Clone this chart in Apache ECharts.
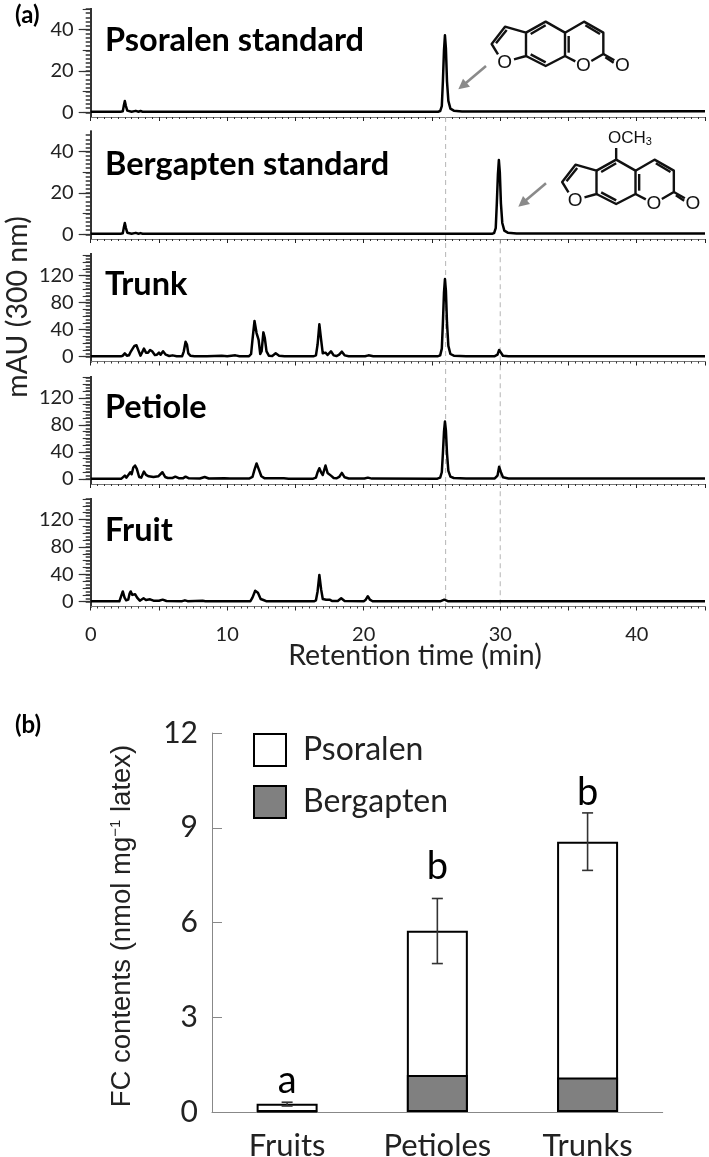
<!DOCTYPE html>
<html><head><meta charset="utf-8">
<style>html,body{margin:0;padding:0;background:#fff}#c{width:709px;height:1157px}</style>
<script src="https://cdn.jsdelivr.net/npm/echarts@6/dist/echarts.min.js"></script>
</head><body><div id="c"></div>
<script>
// ---------- panel (a) data: retention time (min) / signal (mAU)
const psoralenTime   = [0,2.2,2.35,2.42,2.5,2.58,2.68,2.8,3.0,3.3,3.5,3.65,3.8,25.45,25.6,25.72,25.8,25.88,25.95,26.02,26.1,26.2,26.35,26.6,27.2,45];
const psoralenSignal = [0.3,0.3,0.5,3,5.5,3,0.8,0.4,0.3,0.7,0.3,0.6,0.3,0.3,0.6,3,15,30,37.3,31,15,5.5,1.8,0.8,0.4,0.5];
const bergaptenTime   = [0,2.2,2.35,2.42,2.5,2.58,2.68,2.8,3.0,3.3,3.5,3.65,3.8,29.4,29.55,29.67,29.75,29.83,29.9,29.97,30.05,30.15,30.3,30.55,31.2,45];
const bergaptenSignal = [0.3,0.3,0.5,3,5.5,3,0.8,0.4,0.3,0.7,0.3,0.6,0.3,0.3,0.6,3,15,29,36,30,15,5.5,1.8,0.8,0.4,0.4];
const trunkTime   = [0,2.2,2.35,2.5,2.65,2.8,2.95,3.05,3.2,3.35,3.5,3.65,3.75,3.9,4.05,4.2,4.35,4.5,4.7,4.85,5.0,5.12,5.3,5.5,5.75,6.0,6.3,6.7,6.82,6.95,7.05,7.15,7.3,7.6,8.5,9.6,10,10.6,10.9,11.6,11.75,11.85,12.0,12.15,12.3,12.42,12.52,12.65,12.75,12.88,13.05,13.3,13.55,13.8,14.2,16.3,16.5,16.62,16.75,16.88,17.0,17.2,17.35,17.6,17.8,18.0,18.2,18.4,18.6,18.9,20.1,20.35,20.7,25.4,25.6,25.72,25.8,25.88,25.95,26.02,26.1,26.2,26.35,26.6,27.5,29.6,29.8,29.92,30.05,30.2,30.6,45];
const trunkSignal = [0.5,0.5,1.5,5,1.5,2,8,7,16,17,9,1.5,3,12,6,6,10,8,2.5,3,6,3,8,3,1,2,0.8,0.8,8,22,18,5,1.5,0.6,0.8,1.5,0.6,2,0.6,0.8,4,25,53,35,25,4,8,36,28,8,1.5,1.2,5,1.5,0.5,0.5,2,18,48,25,5,6,2.5,8,2,1,3,7.5,2,0.7,0.7,2,0.7,0.5,2,12,50,95,115,98,50,16,4,1.5,0.8,0.8,3,10,6,1.5,0.6,0.6];
const petioleTime   = [0,2.25,2.38,2.5,2.62,2.72,2.9,3.0,3.12,3.25,3.38,3.55,3.7,3.9,4.05,4.25,4.6,4.95,5.25,5.45,5.65,6.0,6.2,6.45,6.75,6.95,7.2,8.0,8.35,8.65,9.8,10.2,11.6,11.85,12.0,12.15,12.3,12.5,12.75,14.15,14.5,16.3,16.5,16.62,16.75,16.9,17.0,17.2,17.35,17.6,17.8,18.0,18.2,18.4,18.6,18.9,20.05,20.3,20.6,25.4,25.6,25.72,25.8,25.88,25.95,26.02,26.1,26.2,26.35,26.6,27.5,29.6,29.8,29.92,30.05,30.2,30.6,45];
const petioleSignal = [0.5,0.5,1.5,5,2,3,10,7,17,20,15,3,2,11,6,4,3,4,10,3,1.5,1.5,3.5,1.2,1,3.5,1,0.8,3,0.8,1,0.6,0.6,3,14,23,15,4,1,1,0.5,0.5,2,10,16,9,6,20,9,5,1.5,1,3,9,2.5,0.7,0.7,2,0.6,0.5,2,10,38,70,85,72,38,12,3.5,1.5,0.8,0.8,5,18,10,2.5,0.8,0.6];
const fruitTime   = [0,2.1,2.22,2.35,2.48,2.6,2.75,2.85,2.93,3.05,3.25,3.4,3.6,3.72,3.87,4.05,4.35,4.6,5.0,5.27,5.55,6.7,6.9,7.1,8.2,8.4,11.7,11.85,12.05,12.25,12.45,12.65,12.85,16.35,16.5,16.62,16.75,16.88,17.0,17.1,17.25,17.5,17.7,18.1,18.35,18.6,20.0,20.15,20.3,20.45,20.65,25.6,25.9,26.2,45];
const fruitSignal = [0.5,0.5,3,15,6,2,3,12,15,10,11,6,1.5,2,5,2.5,3.5,1.5,1.5,3,1,0.8,2,0.8,1.5,0.8,0.8,6,16,13,4,2.5,0.8,0.5,2,15,39,18,4,6,3,3,1,1,5,1,0.8,3,8,3,0.7,0.6,3,0.6,0.6];

// ---------- panel (a) axes
const timeMin = 0, timeMax = 45, timeStep = 5, timeLabelEvery = 10;
const stdMajorTicks = [0,20,40], stdMidTicks = [0,10,20,30,40,50];
const stdFineTicks  = [0,2,4,6,8,10,12,14,16,18,20,22,24,26,28,30,32,34,36,38,40,42,44,46,48,50];
const smpMajorTicks = [0,40,80,120], smpMidTicks = [0,10,20,30,40,50,60,70,80,90,100,110,120,130,140,150];
const smpFineTicks  = [0,5,10,15,20,25,30,35,40,45,50,55,60,65,70,75,80,85,90,95,100,105,110,115,120,125,130,135,140,145,150];
const guideTimes = [26, 30];
const guideFrom  = [0, 0.25];
const panelNames = ['Psoralen standard','Bergapten standard','Trunk','Petiole','Fruit'];
const retentionTitle = 'Retention time (min)', signalTitle = 'mAU (300 nm)';

// ---------- panel (b) data
const tissues = ['Fruits','Petioles','Trunks'];
const bergaptenContent = [0.03, 1.17, 1.09];
const psoralenContent  = [0.23, 4.57, 7.47];
const errorLow  = [0.19, 4.70, 7.65];
const errorHigh = [0.31, 6.76, 9.47];
const letters = ['a','b','b'];
const letterHeight = [1.0, 7.75, 10.1];
const contentTicks = [0,3,6,9,12];

// ---------- panel (a) layout
const FONT = 'Lato';
const panels = [
 {name:0,t:psoralenTime,s:psoralenSignal,top:9,bottom:117,min:-2.27,max:50,maj:stdMajorTicks,mid:stdMidTicks,fine:stdFineTicks},
 {name:1,t:bergaptenTime,s:bergaptenSignal,top:131.5,bottom:239,min:-2.27,max:49.8,maj:stdMajorTicks,mid:stdMidTicks,fine:stdFineTicks},
 {name:2,t:trunkTime,s:trunkSignal,top:254,bottom:361.5,min:-7.1,max:152,maj:smpMajorTicks,mid:smpMidTicks,fine:smpFineTicks},
 {name:3,t:petioleTime,s:petioleSignal,top:377,bottom:484,min:-7.4,max:151,maj:smpMajorTicks,mid:smpMidTicks,fine:smpFineTicks},
 {name:4,t:fruitTime,s:fruitSignal,top:499,bottom:606.5,min:-7,max:150,maj:smpMajorTicks,mid:smpMidTicks,fine:smpFineTicks}
];
const L = 90.7, W = 705-90.7;
const grid=[], xAxis=[], yAxis=[], series=[];
panels.forEach((p,i)=>{
  grid.push({left:L,width:W,top:p.top,height:p.bottom-p.top,outerBoundsMode:'none'});
  const last = i===panels.length-1;
  xAxis.push({type:'value',gridIndex:i,position:'bottom',min:timeMin,max:timeMax,interval:timeStep,
    axisLine:{onZero:false,lineStyle:{color:'#777',width:1}},
    axisTick:{length:4,lineStyle:{color:'#222',width:1}},
    minorTick:{show:true,splitNumber:10,length:2,lineStyle:{color:'#333',width:1}},
    splitLine:{show:false},
    axisLabel:{show:last,margin:18,fontFamily:FONT,fontSize:20,color:'#222',
      formatter:v=>v%timeLabelEvery===0?String(v):''}
  });
  const yBase = yAxis.length;
  [[p.maj,12,1.2,true],[p.mid,8,1.1,false],[p.fine,5,1.5,false]].forEach(([ticks,len,w,lab])=>{
    yAxis.push({type:'value',gridIndex:i,position:'left',min:p.min,max:p.max,
      axisLine:{show:true,onZero:false,lineStyle:{color:'#333',width:2}},
      axisTick:{show:true,customValues:ticks,length:len,lineStyle:{color:'#333',width:w}},
      splitLine:{show:false},
      axisLabel:lab?{show:true,customValues:ticks,margin:17,fontFamily:FONT,fontSize:20,color:'#222'}:{show:false}
    });
  });
  series.push({type:'line',xAxisIndex:i,yAxisIndex:yBase,showSymbol:false,silent:true,z:5,
    data:p.t.map((t,k)=>[t,p.s[k]]),
    lineStyle:{color:'#000',width:2.5,join:'round'}});
});
// overlay for the dashed guides
const gi = panels.length;
grid.push({left:L,width:W,top:117,height:489,outerBoundsMode:'none'});
xAxis.push({type:'value',gridIndex:gi,min:timeMin,max:timeMax,show:false});
const guideY = yAxis.length;
yAxis.push({type:'value',gridIndex:gi,min:0,max:1,show:false});
guideTimes.forEach((t,k)=>series.push({type:'line',xAxisIndex:gi,yAxisIndex:guideY,showSymbol:false,silent:true,z:1,
  data:[[t,1-guideFrom[k]],[t,0]],lineStyle:{color:'#b5b5b5',width:1,type:[5,4]}}));

// ---------- panel (b)
const bi = gi+1;
grid.push({left:212,width:450.7,top:733,height:379,outerBoundsMode:'none'});
xAxis.push({type:'category',gridIndex:bi,data:tissues,
  axisLine:{lineStyle:{color:'#888',width:1}},
  axisTick:{inside:true,length:10,lineStyle:{color:'#888',width:1}},
  axisLabel:{margin:18,fontFamily:FONT,fontSize:31,color:'#222'}});
const bY = yAxis.length;
yAxis.push({type:'value',gridIndex:bi,position:'left',min:0,max:12,interval:3,
  axisLine:{show:true,lineStyle:{color:'#888',width:1}},
  axisTick:{show:true,inside:true,length:10,lineStyle:{color:'#888',width:1}},
  splitLine:{show:false},
  axisLabel:{margin:14,fontFamily:FONT,fontSize:30,color:'#222',customValues:contentTicks}});
const barStyle = c=>({color:c,borderColor:'#000',borderWidth:2});
// white column to the stack total, grey part drawn over its foot so the joint is one line
series.push({name:'Psoralen',type:'bar',xAxisIndex:bi,yAxisIndex:bY,barWidth:'40.6%',barGap:'-100%',z:2,
  data:psoralenContent.map((v,k)=>+(v+bergaptenContent[k]).toFixed(2)),itemStyle:barStyle('#ffffff'),silent:true});
series.push({name:'Bergapten',type:'bar',xAxisIndex:bi,yAxisIndex:bY,barWidth:'40.6%',barGap:'-100%',z:3,
  data:bergaptenContent,itemStyle:barStyle('#808080'),silent:true});
series.push({type:'custom',xAxisIndex:bi,yAxisIndex:bY,silent:true,z:6,
  data:tissues.map((c,k)=>[k,errorLow[k],errorHigh[k]]),
  renderItem:(params,api)=>{
    const lo=api.coord([api.value(0),api.value(1)]), hi=api.coord([api.value(0),api.value(2)]);
    const s={stroke:'#333',lineWidth:1.6}, cap=5.5;
    return {type:'group',children:[
      {type:'line',shape:{x1:lo[0],y1:lo[1],x2:hi[0],y2:hi[1]},style:s},
      {type:'line',shape:{x1:lo[0]-cap,y1:lo[1],x2:lo[0]+cap,y2:lo[1]},style:s},
      {type:'line',shape:{x1:hi[0]-cap,y1:hi[1],x2:hi[0]+cap,y2:hi[1]},style:s}
    ]};
  }});
series.push({type:'scatter',xAxisIndex:bi,yAxisIndex:bY,symbolSize:0,silent:true,itemStyle:{color:'#000',opacity:1},
  data:tissues.map((c,k)=>({value:[k,letterHeight[k]],label:{show:true,position:'inside',formatter:letters[k],fontFamily:FONT,fontSize:38,color:'#000',opacity:1}}))});

// ---------- molecule drawing (decorative annotation)
const ink = {stroke:'#111',lineWidth:2.4,fill:null,lineJoin:'round',lineCap:'butt'};
const z3 = pts => pts.map(([x,y])=>[x/3,y/3]);
const pl = pts => ({type:'polyline',shape:{points:z3(pts)},style:ink});
const at = (t,x,y) => ({type:'text',x:x/3,y:y/3,style:{text:t,fontFamily:'Liberation Sans',fontSize:19,fill:'#111',align:'center',verticalAlign:'middle'}});
const molecule = [
  pl([[294,163],[275,132],[315,80],[378,98],[378,168],[342,178]]),
  pl([[288,130],[320,90]]),
  pl([[378,98],[437,65],[495,98],[495,168],[437,198],[378,168]]),
  pl([[392,102],[437,76]]),
  pl([[392,163],[437,187]]),
  pl([[506,108],[506,158]]),
  pl([[495,98],[552,65],[610,98],[610,162],[574,183]]),
  pl([[526,184],[495,168]]),
  pl([[556,76],[600,102]]),
  pl([[610,162],[643,181]]),
  pl([[616,172],[641,188]]),
  at('O',314,188), at('O',550,198), at('O',667,198)
];
const arrow = (x1,y1,x2,y2)=>({type:'group',children:[
  {type:'line',shape:{x1:x1/3,y1:y1/3,x2:(x2+20)/3,y2:(y2-17)/3},style:{stroke:'#8a8a8a',lineWidth:2.6}},
  {type:'polygon',shape:{points:z3([[x2,y2],[x2+14,y2-32],[x2+35,y2-8]])},style:{fill:'#8a8a8a'}}
]});
const txt = (t,x,y,size,extra={})=>({type:'text',x,y,z:20,style:Object.assign({text:t,fontFamily:FONT,fontSize:size,fill:'#111',align:'center',verticalAlign:'middle'},extra)});
const bold = {fontWeight:'bold',align:'left',fill:'#000'};
const graphic = [
  txt('(a)',15,15,24,bold), txt('(b)',15,725,24,bold),
  txt(panelNames[0],105,41,32.5,bold), txt(panelNames[1],105,165,32.5,bold),
  txt(panelNames[2],105,285,32.5,bold), txt(panelNames[3],105,408,32.5,bold), txt(panelNames[4],105,531,32.5,bold),
  txt(retentionTitle,415,656,28.5,{fill:'#222'}),
  Object.assign(txt(signalTitle,18,307,28.5,{fill:'#222'}),{rotation:Math.PI/2}),
  {type:'text',x:122,y:926,z:20,rotation:Math.PI/2,style:{text:'{a|FC contents (nmol mg}{s|−1}{a| latex)}',align:'center',verticalAlign:'middle',
     rich:{a:{fontFamily:'Liberation Sans',fontSize:27.5,fill:'#222'},s:{fontFamily:'Liberation Sans',fontSize:15,fill:'#222',verticalAlign:'top',padding:[0,0,10,0]}}}},
  {type:'group',x:400,y:0,z:20,children:molecule.concat([arrow(258,198,175,268)])},
  {type:'group',x:400+70.5,y:138,z:20,children:molecule.concat([
    pl([[437,65],[437,30]]),
    {type:'text',x:159.5,y:0,style:{text:'{a|OCH}{b|3}',align:'center',verticalAlign:'middle',rich:{a:{fontFamily:'Liberation Sans',fontSize:17,fill:'#111'},b:{fontFamily:'Liberation Sans',fontSize:11,fill:'#111',padding:[8,0,0,0]}}}}
  ])},
  {type:'group',x:400,y:0,z:20,children:[arrow(438,550,355,620)]}
];

const chart = echarts.init(document.getElementById('c'),null,{renderer:'canvas'});
chart.setOption({animation:false,backgroundColor:'#fff',grid,xAxis,yAxis,series,graphic,
  legend:{left:253,top:733,padding:0,orient:'vertical',itemWidth:32,itemHeight:32,itemGap:18,icon:'rect',
    data:['Psoralen','Bergapten'],selectedMode:false,
    textStyle:{fontFamily:FONT,fontSize:32,color:'#222',padding:[0,0,0,12]}}
});
</script></body></html>
